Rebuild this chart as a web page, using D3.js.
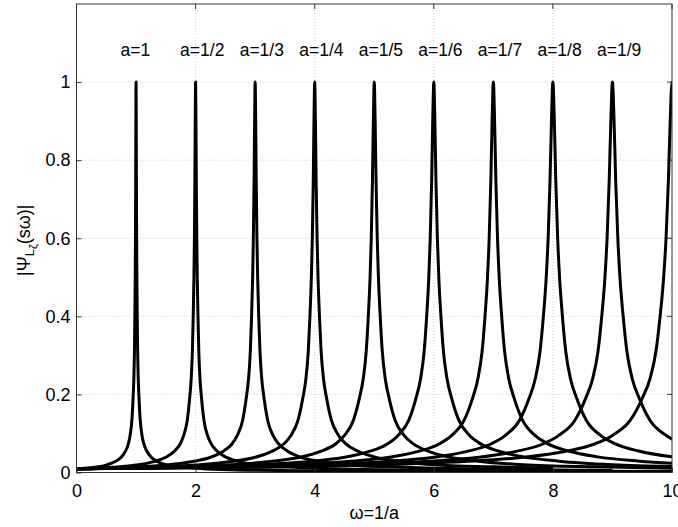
<!DOCTYPE html>
<html>
<head>
<meta charset="utf-8">
<script src="https://cdn.jsdelivr.net/npm/d3@7/dist/d3.min.js"></script>
<style>
  html, body { margin: 0; padding: 0; background: #ffffff; }
  svg { display: block; font-family: "Liberation Sans", Arial, Helvetica, sans-serif; }
</style>
</head>
<body>
<script>
// ---- data ----
const peakOmegas = [1, 2, 3, 4, 5, 6, 7, 8, 9, 10];
const peakLabels = ["a=1", "a=1/2", "a=1/3", "a=1/4", "a=1/5", "a=1/6", "a=1/7", "a=1/8", "a=1/9"];
// shared resonance profile: omega / peak-omega  ->  |Psi|
const profileRatio = [0, 0.3, 0.5, 0.65, 0.75, 0.82, 0.87, 0.9, 0.93, 0.95, 0.963, 0.973, 0.98, 0.986, 0.99, 0.994, 0.997, 1,
                      1.003, 1.006, 1.01, 1.014, 1.02, 1.027, 1.037, 1.05, 1.07, 1.1, 1.13, 1.18, 1.25, 1.35, 1.5, 1.75, 2, 3, 5, 10];
const profileValue = [0.0095, 0.0135, 0.019, 0.028, 0.039, 0.054, 0.073, 0.095, 0.134, 0.19, 0.24, 0.31, 0.40, 0.50, 0.60, 0.75, 0.90, 1,
                      0.90, 0.75, 0.60, 0.50, 0.40, 0.31, 0.24, 0.19, 0.134, 0.095, 0.074, 0.055, 0.040, 0.029, 0.020, 0.0145, 0.011, 0.0055, 0.0028, 0.0013];
const xTicks = [0, 2, 4, 6, 8, 10];
const yTicks = [0, 0.2, 0.4, 0.6, 0.8, 1];
const xDomain = [0, 10];
const yDomain = [0, 1.2];

// ---- layout ----
const W = 678, H = 527;
const M = { left: 76.5, right: 672, top: 4, bottom: 472.5 };

const svg = d3.select("body").append("svg").attr("width", W).attr("height", H);
svg.append("rect").attr("width", W).attr("height", H).attr("fill", "#ffffff");

const x = d3.scaleLinear().domain(xDomain).range([M.left, M.right]);
const y = d3.scaleLinear().domain(yDomain).range([M.bottom, M.top]);

// grid
const grid = svg.append("g");
grid.selectAll("line.vg").data(xTicks.slice(1, -1)).join("line")
  .attr("x1", d => x(d)).attr("x2", d => x(d)).attr("y1", M.top).attr("y2", M.bottom)
  .attr("stroke", "#cfcfcf").attr("stroke-width", 1).attr("stroke-dasharray", "1,2");
grid.selectAll("line.hg").data(yTicks.slice(1)).join("line")
  .attr("x1", M.left).attr("x2", M.right).attr("y1", d => y(d)).attr("y2", d => y(d))
  .attr("stroke", "#cfcfcf").attr("stroke-width", 1).attr("stroke-dasharray", "1,2");

// curves
svg.append("defs").append("clipPath").attr("id", "clip")
  .append("rect").attr("x", M.left).attr("y", M.top)
  .attr("width", M.right - M.left).attr("height", M.bottom - M.top);

const line = d3.line()
  .x(d => x(d[0])).y(d => y(d[1]))
  .curve(d3.curveMonotoneX);

const curves = svg.append("g").attr("clip-path", "url(#clip)");
peakOmegas.forEach(w0 => {
  const pts = profileRatio.map((r, i) => [r * w0, profileValue[i]]).filter(p => p[0] <= 10.5);
  curves.append("path").datum(pts)
    .attr("d", line)
    .attr("fill", "none")
    .attr("stroke", "#000000")
    .attr("stroke-width", 3)
    .attr("stroke-linejoin", "round");
});

// axes
const xAxis = d3.axisBottom(x).tickValues(xTicks).tickSizeInner(-5).tickSizeOuter(0).tickPadding(12).tickFormat(d3.format("d"));
const yAxis = d3.axisLeft(y).tickValues(yTicks).tickSizeInner(-5).tickSizeOuter(0).tickPadding(6).tickFormat(d => d === 0 ? "0" : d3.format("")(d));

const gx = svg.append("g").attr("transform", `translate(0,${M.bottom})`).call(xAxis);
const gy = svg.append("g").attr("transform", `translate(${M.left},0)`).call(yAxis);
[gx, gy].forEach(g => {
  g.select(".domain").remove();
  g.selectAll(".tick line").attr("stroke", "#333");
  g.selectAll(".tick text").attr("font-size", 18).attr("fill", "#000")
    .attr("font-family", "'Liberation Sans', Arial, sans-serif");
});
gx.selectAll(".tick text").attr("dy", "0.71em");

// top & right ticks (mirror)
svg.append("g").selectAll("line").data(xTicks).join("line")
  .attr("x1", d => x(d)).attr("x2", d => x(d)).attr("y1", M.top).attr("y2", M.top + 5).attr("stroke", "#333");
svg.append("g").selectAll("line").data(yTicks).join("line")
  .attr("x1", M.right).attr("x2", M.right - 5).attr("y1", d => y(d)).attr("y2", d => y(d)).attr("stroke", "#333");

// box
svg.append("rect").attr("x", M.left).attr("y", M.top)
  .attr("width", M.right - M.left).attr("height", M.bottom - M.top)
  .attr("fill", "none").attr("stroke", "#333").attr("stroke-width", 1);

// peak labels
svg.append("g").selectAll("text").data(peakLabels).join("text")
  .attr("x", (d, i) => x(peakOmegas[i] - 0.26))
  .attr("y", y(1.066))
  .attr("font-size", 17.5)
  .attr("fill", "#000")
  .text(d => d);

// axis labels
svg.append("text")
  .attr("x", (M.left + M.right) / 2).attr("y", 519)
  .attr("text-anchor", "middle").attr("font-size", 18).attr("fill", "#000")
  .text("ω=1/a");

const yl = svg.append("text")
  .attr("transform", `translate(30,${(M.top + M.bottom) / 2 + 2}) rotate(-90)`)
  .attr("text-anchor", "middle").attr("font-size", 18).attr("fill", "#000");
yl.append("tspan").text("|Ψ");
yl.append("tspan").attr("font-size", 13).attr("dy", 4).text("L");
yl.append("tspan").attr("font-size", 11).attr("dy", 3).text("ζ");
yl.append("tspan").attr("dy", -7).text("(sω)|");
</script>
</body>
</html>
